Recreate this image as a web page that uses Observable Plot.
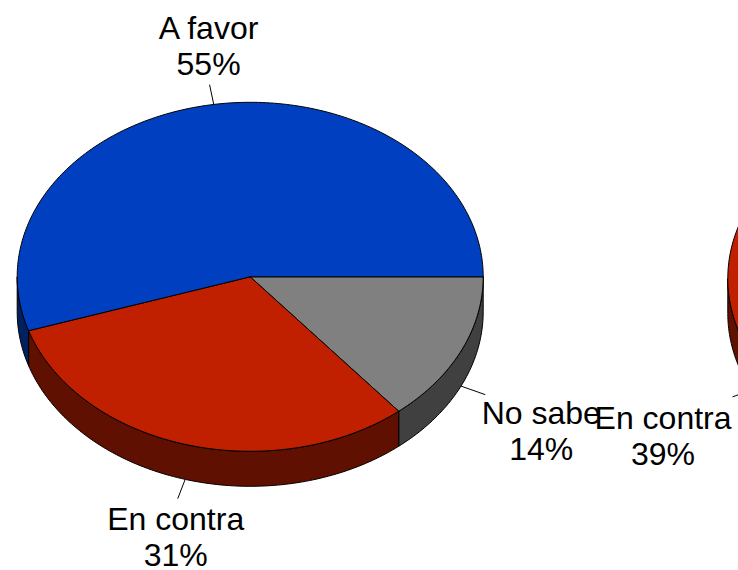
<!DOCTYPE html>
<html>
<head>
<meta charset="utf-8">
<script src="https://cdn.jsdelivr.net/npm/d3@7"></script>
<script src="https://cdn.jsdelivr.net/npm/@observablehq/plot@0.6"></script>
<style>
html,body{margin:0;padding:0;background:#fff;overflow:hidden}
svg{display:block}
</style>
</head>
<body>
<div id="chart"></div>
<script>
// Data
const labels = ["No sabe", "En contra", "A favor"];
const shares = [14, 31, 55];
const secondLabels = ["En contra"];
const secondShares = [39];

// Styles
const topColors = {"No sabe": "#808080", "En contra": "#c02000", "A favor": "#0040c0"};
const sideColors = {"No sabe": "#404040", "En contra": "#601000", "A favor": "#002060"};

// Layout of the two tilted pies
const RX = 233, RY = 174.5, DEPTH = 35;
const pieA = {id: "a", cx: 249.7, cy: 276.3, start: 0, leader: 0.115,
  offsets: {"A favor": [-1, -39], "En contra": [-2, 37.5], "No sabe": [56, 36]}};
const pieB = {id: "b", cx: 960.3, cy: 278, start: 83.8, leader: 0.09,
  offsets: {"En contra": [-69.5, 39]}};

const rad = (d) => d * Math.PI / 180;
const px = (p, t) => p.cx + RX * Math.cos(rad(t));
const py = (p, t) => p.cy + RY * Math.sin(rad(t));

function arc(a, b) {
  const n = Math.max(2, Math.ceil(Math.abs(b - a)));
  return d3.range(n + 1).map((i) => a + (b - a) * i / n);
}

const sides = [], tops = [], leaders = [], texts = [];

function build(p, names, values) {
  let t0 = p.start;
  names.forEach((name, i) => {
    const t1 = t0 + values[i] * 3.6;
    const key = p.id + i;
    // side wall: only the front half of the rim is visible
    const a = Math.max(t0, 0), b = Math.min(t1, 180);
    if (b > a) {
      const upper = arc(a, b).map((t) => ({key, name, x: px(p, t), y: py(p, t)}));
      const lower = arc(b, a).map((t) => ({key, name, x: px(p, t), y: py(p, t) + DEPTH}));
      sides.push(...upper, ...lower, upper[0]);
    }
    // top face
    const rim = arc(t0, t1).map((t) => ({key, name, x: px(p, t), y: py(p, t)}));
    const hub = {key, name, x: p.cx, y: p.cy};
    tops.push(hub, ...rim, hub);
    // leader and label
    const mid = (t0 + t1) / 2;
    const front = Math.sin(rad(mid)) > 0 ? DEPTH : 0;
    const x1 = px(p, mid), y1 = py(p, mid) + front;
    const x2 = x1 + RX * Math.cos(rad(mid)) * p.leader;
    const y2 = y1 + RY * Math.sin(rad(mid)) * p.leader;
    leaders.push({x1, y1, x2, y2});
    const [dx, dy] = p.offsets[name];
    texts.push({x: x2 + dx, y: y2 + dy, text: `${name}\n${values[i]}%`});
    t0 = t1;
  });
}
build(pieB, secondLabels, secondShares);
build(pieA, labels, shares);

const chart = Plot.plot({
  width: 738,
  height: 570,
  margin: 0,
  x: {domain: [0, 738], range: [0, 738], axis: null},
  y: {domain: [0, 570], range: [0, 570], axis: null},
  style: {background: "#fff"},
  marks: [
    Plot.line(sides, {x: "x", y: "y", z: "key", fill: (d) => sideColors[d.name], stroke: "#000", strokeWidth: 1, strokeLinejoin: "round"}),
    Plot.line(tops, {x: "x", y: "y", z: "key", fill: (d) => topColors[d.name], stroke: "#000", strokeWidth: 1, strokeLinejoin: "round"}),
    Plot.link(leaders, {x1: "x1", y1: "y1", x2: "x2", y2: "y2", stroke: "#000", strokeWidth: 1}),
    Plot.text(texts, {x: "x", y: "y", text: "text", fill: "#000", fontSize: 32, lineHeight: 1.125, fontFamily: "'Liberation Sans', Arial, sans-serif", textAnchor: "middle"})
  ]
});
document.getElementById("chart").appendChild(chart);
</script>
</body>
</html>
